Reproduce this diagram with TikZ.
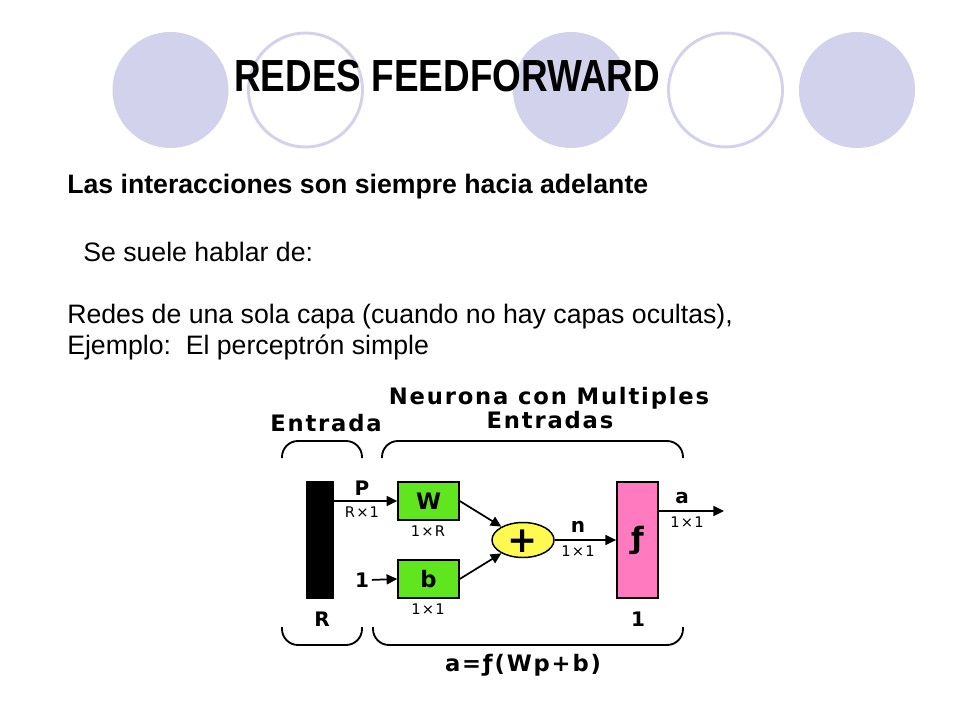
\documentclass[tikz,border=0pt]{standalone}
\usepackage{fontspec}
\usepackage{graphicx}
\setmainfont{Liberation Sans}
\newfontfamily\dgfont[LetterSpace=8]{DejaVu Sans}
\newfontfamily\dgplain{DejaVu Sans}
\usetikzlibrary{shapes.geometric,arrows.meta}
\definecolor{lavender}{RGB}{210,210,236}
\definecolor{boxgreen}{RGB}{96,230,30}
\definecolor{fpink}{RGB}{255,122,190}
\definecolor{sumyellow}{RGB}{255,250,80}

\begin{document}
\begin{tikzpicture}[x=0.75pt,y=-0.75pt,
  txt/.style={inner sep=0pt,anchor=base west,font=\fontsize{20pt}{24pt}\selectfont},
  head/.style={inner sep=0pt,font=\dgfont\bfseries\fontsize{17pt}{20pt}\selectfont},
  dim/.style={inner sep=0pt,font=\dgfont\fontsize{11pt}{13pt}\selectfont},
  lbl/.style={inner sep=0pt,font=\dgplain\bfseries\fontsize{15pt}{17pt}\selectfont},
  block/.style={draw=black,line width=1.1pt,inner sep=0pt,font=\dgplain\bfseries\fontsize{17pt}{20pt}\selectfont},
  wire/.style={line width=1.3pt,-{Triangle[length=8pt,width=7.5pt]}},
  brace/.style={line width=1.4pt,rounded corners=12pt}]
\useasboundingbox (0,0) rectangle (960,720);
\fill[white] (0,0) rectangle (960,720);
\foreach \cx in {170.5,571,857} \fill[lavender] (\cx,90) circle (58);
\foreach \cx in {305.5,725.5} \draw[lavender,line width=2.2pt] (\cx,90) circle (57);

\node[txt,font=\fontsize{33.75pt}{40pt}\selectfont\bfseries] (title) at (234,91.5) {\scalebox{0.82}[1]{REDES FEEDFORWARD}};
\node[txt,font=\fontsize{20pt}{24pt}\selectfont\bfseries] (lead) at (67,194) {Las interacciones son siempre hacia adelante};
\node[txt] (talk) at (83,262) {Se suele hablar de:};
\node[txt] (single) at (67,323.5) {Redes de una sola capa (cuando no hay capas ocultas),};
\node[txt] (example) at (67,354) {Ejemplo:\ \ El perceptrón simple};

\node[head] (inhead) at (326,423) {Entrada};
\node[head] (neurhead) at (549,398) {Neurona con Multiples};
\node[head] (neurhead2) at (550,420) {Entradas};
\draw[brace] (282,458) -- (282,441) -- (362,441) -- (362,458);
\draw[brace] (382,458) -- (382,441) -- (683,441) -- (683,458);

\node[block,fill=black,minimum width=19.5pt,minimum height=87pt] (inbar) at (320,540) {};
\node[block,fill=boxgreen,minimum width=45.75pt,minimum height=28.5pt] (wbox) at (428.5,501) {W};
\node[block,fill=boxgreen,minimum width=45.75pt,minimum height=28.5pt] (bbox) at (428.5,579) {b};
\node[block,ellipse,fill=sumyellow,minimum width=46.5pt,minimum height=26.25pt] (sum) at (523,540) {};
\node[inner sep=0pt,font=\dgplain\bfseries\fontsize{27pt}{30pt}\selectfont] (plus) at (523,541) {+};
\node[block,fill=fpink,minimum width=31pt,minimum height=87pt,font=\dgplain\bfseries\fontsize{22pt}{24pt}\selectfont] (fbox) at (637.5,540) {ƒ};
\node[lbl] (one) at (362,580) {1};
\coordinate (aout) at (724,511);

\draw[wire] (inbar.east |- wbox.west) -- (wbox.west);
\draw[wire,shorten <=2pt] (one.east) -- (bbox.west);
\draw[wire] (wbox.east) -- (sum);
\draw[wire] (bbox.east) -- (sum);
\draw[wire] (sum.east) -- (fbox.west);
\draw[wire] (fbox.east |- aout) -- (aout);

\node[lbl] (plabel) at (362,488) {P};
\node[dim] (pdim) at (362,512) {R×1};
\node[dim] (wdim) at (428,531) {1×R};
\node[dim] (bdim) at (428,609) {1×1};
\node[lbl] (nlabel) at (578,527) {n};
\node[dim] (ndim) at (578,551) {1×1};
\node[lbl] (alabel) at (682,498) {a};
\node[dim] (adim) at (687,522) {1×1};
\node[lbl] (rsize) at (322,619) {R};
\node[lbl] (fsize) at (638,619) {1};

\draw[brace] (282,627) -- (282,645) -- (362,645) -- (362,627);
\draw[brace] (373,627) -- (373,645) -- (683,645) -- (683,627);
\node[head] (formula) at (523,665) {a=ƒ(Wp+b)};
\end{tikzpicture}
\end{document}
